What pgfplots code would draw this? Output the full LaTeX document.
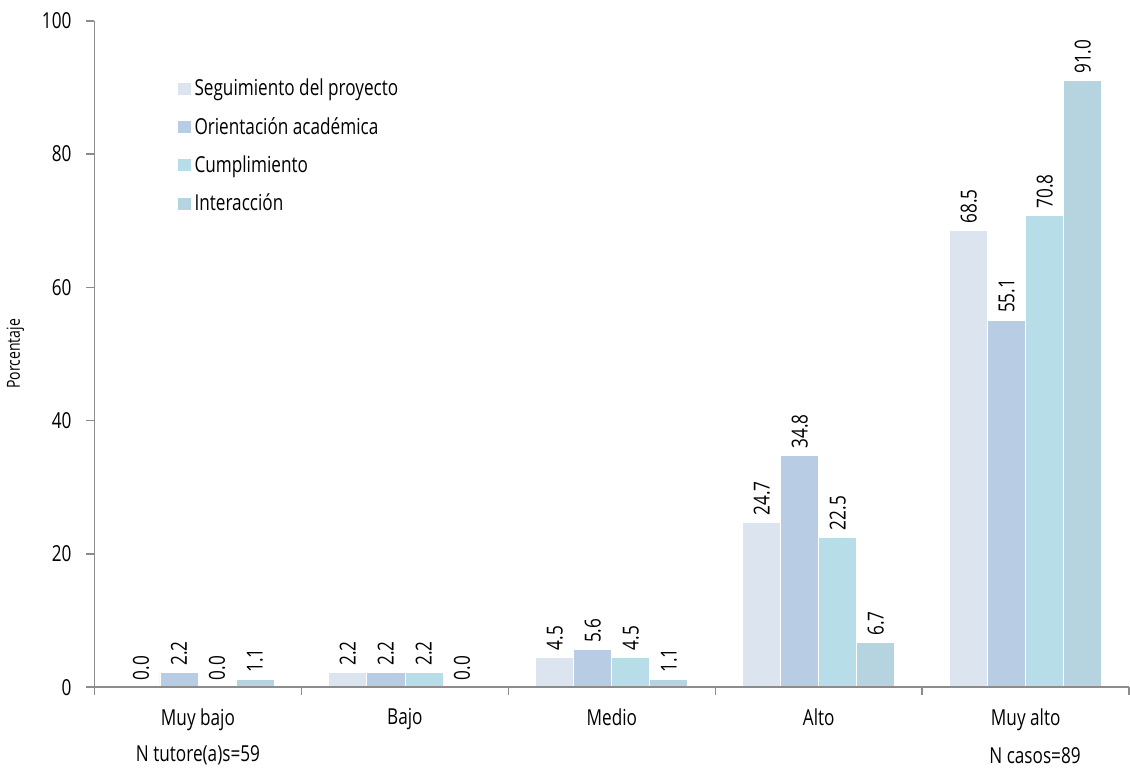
\documentclass[border={0pt 0pt 0pt 3pt}]{standalone}
\usepackage{fontspec}
\setmainfont[FakeStretch=0.78]{Open Sans}
\usepackage{pgfplots}
\pgfplotsset{compat=1.18}
\definecolor{cA}{HTML}{DCE4F0}
\definecolor{cB}{HTML}{B8CCE4}
\definecolor{cC}{HTML}{B7DDE8}
\definecolor{cD}{HTML}{B5D4DF}
\definecolor{axgray}{HTML}{8C8C8C}
\begin{document}
\begin{tikzpicture}
\begin{axis}[
  scale only axis,
  width=517pt, height=333pt,
  ybar=0pt, bar width=19pt,
  xmin=-0.5, xmax=4.5, ymin=0, ymax=100,
  xtick={0,1,2,3,4},
  xticklabels={Muy bajo,Bajo,Medio,Alto,Muy alto},
  major x tick style={draw=none},
  minor xtick={-0.5,0.5,1.5,2.5,3.5,4.5},
  minor tick length=4pt,
  ytick={0,20,40,60,80,100},
  major tick length=4pt,
  tick align=outside,
  axis on top,
  axis x line*=bottom, axis y line*=left,
  axis line style={axgray, line width=0.8pt},
  every tick/.style={axgray, line width=0.8pt},
  tick label style={font=\fontsize{11}{13}\selectfont},
  /pgf/number format/assume math mode=true,
  yticklabel style={xshift=-4pt},
  xticklabel style={yshift=-3pt},
  ylabel={Porcentaje},
  ylabel style={font=\fontsize{9}{10}\selectfont, yshift=2pt},
  nodes near coords,
  nodes near coords style={font=\fontsize{11}{13}\selectfont, rotate=90, anchor=west, /pgf/number format/.cd, fixed, fixed zerofill, precision=1, assume math mode=true},
  every axis plot/.append style={draw=white, line width=0.4pt},
  legend style={draw=none, fill=none, at={(0.075,0.925)}, anchor=north west, font=\fontsize{11}{13}\selectfont, row sep=5.2pt, cells={anchor=west}},
  legend image code/.code={\fill[#1, draw=none] (0pt,-3pt) rectangle (6pt,3pt);},
  clip=false,
]
\addplot[fill=cA] coordinates {(0,0.0) (1,2.2) (2,4.5) (3,24.7) (4,68.5)};
\addplot[fill=cB] coordinates {(0,2.2) (1,2.2) (2,5.6) (3,34.8) (4,55.1)};
\addplot[fill=cC] coordinates {(0,0.0) (1,2.2) (2,4.5) (3,22.5) (4,70.8)};
\addplot[fill=cD] coordinates {(0,1.1) (1,0.0) (2,1.1) (3,6.7) (4,91.0)};
\legend{Seguimiento del proyecto, Orientación académica, Cumplimiento, Interacción}
\node[font=\fontsize{11}{13}\selectfont, anchor=center] at (axis description cs:0.1,-0.102) {N tutore(a)s=59};
\node[font=\fontsize{11}{13}\selectfont, anchor=center] at (axis description cs:0.909,-0.102) {N casos=89};
\end{axis}
\end{tikzpicture}
\end{document}
